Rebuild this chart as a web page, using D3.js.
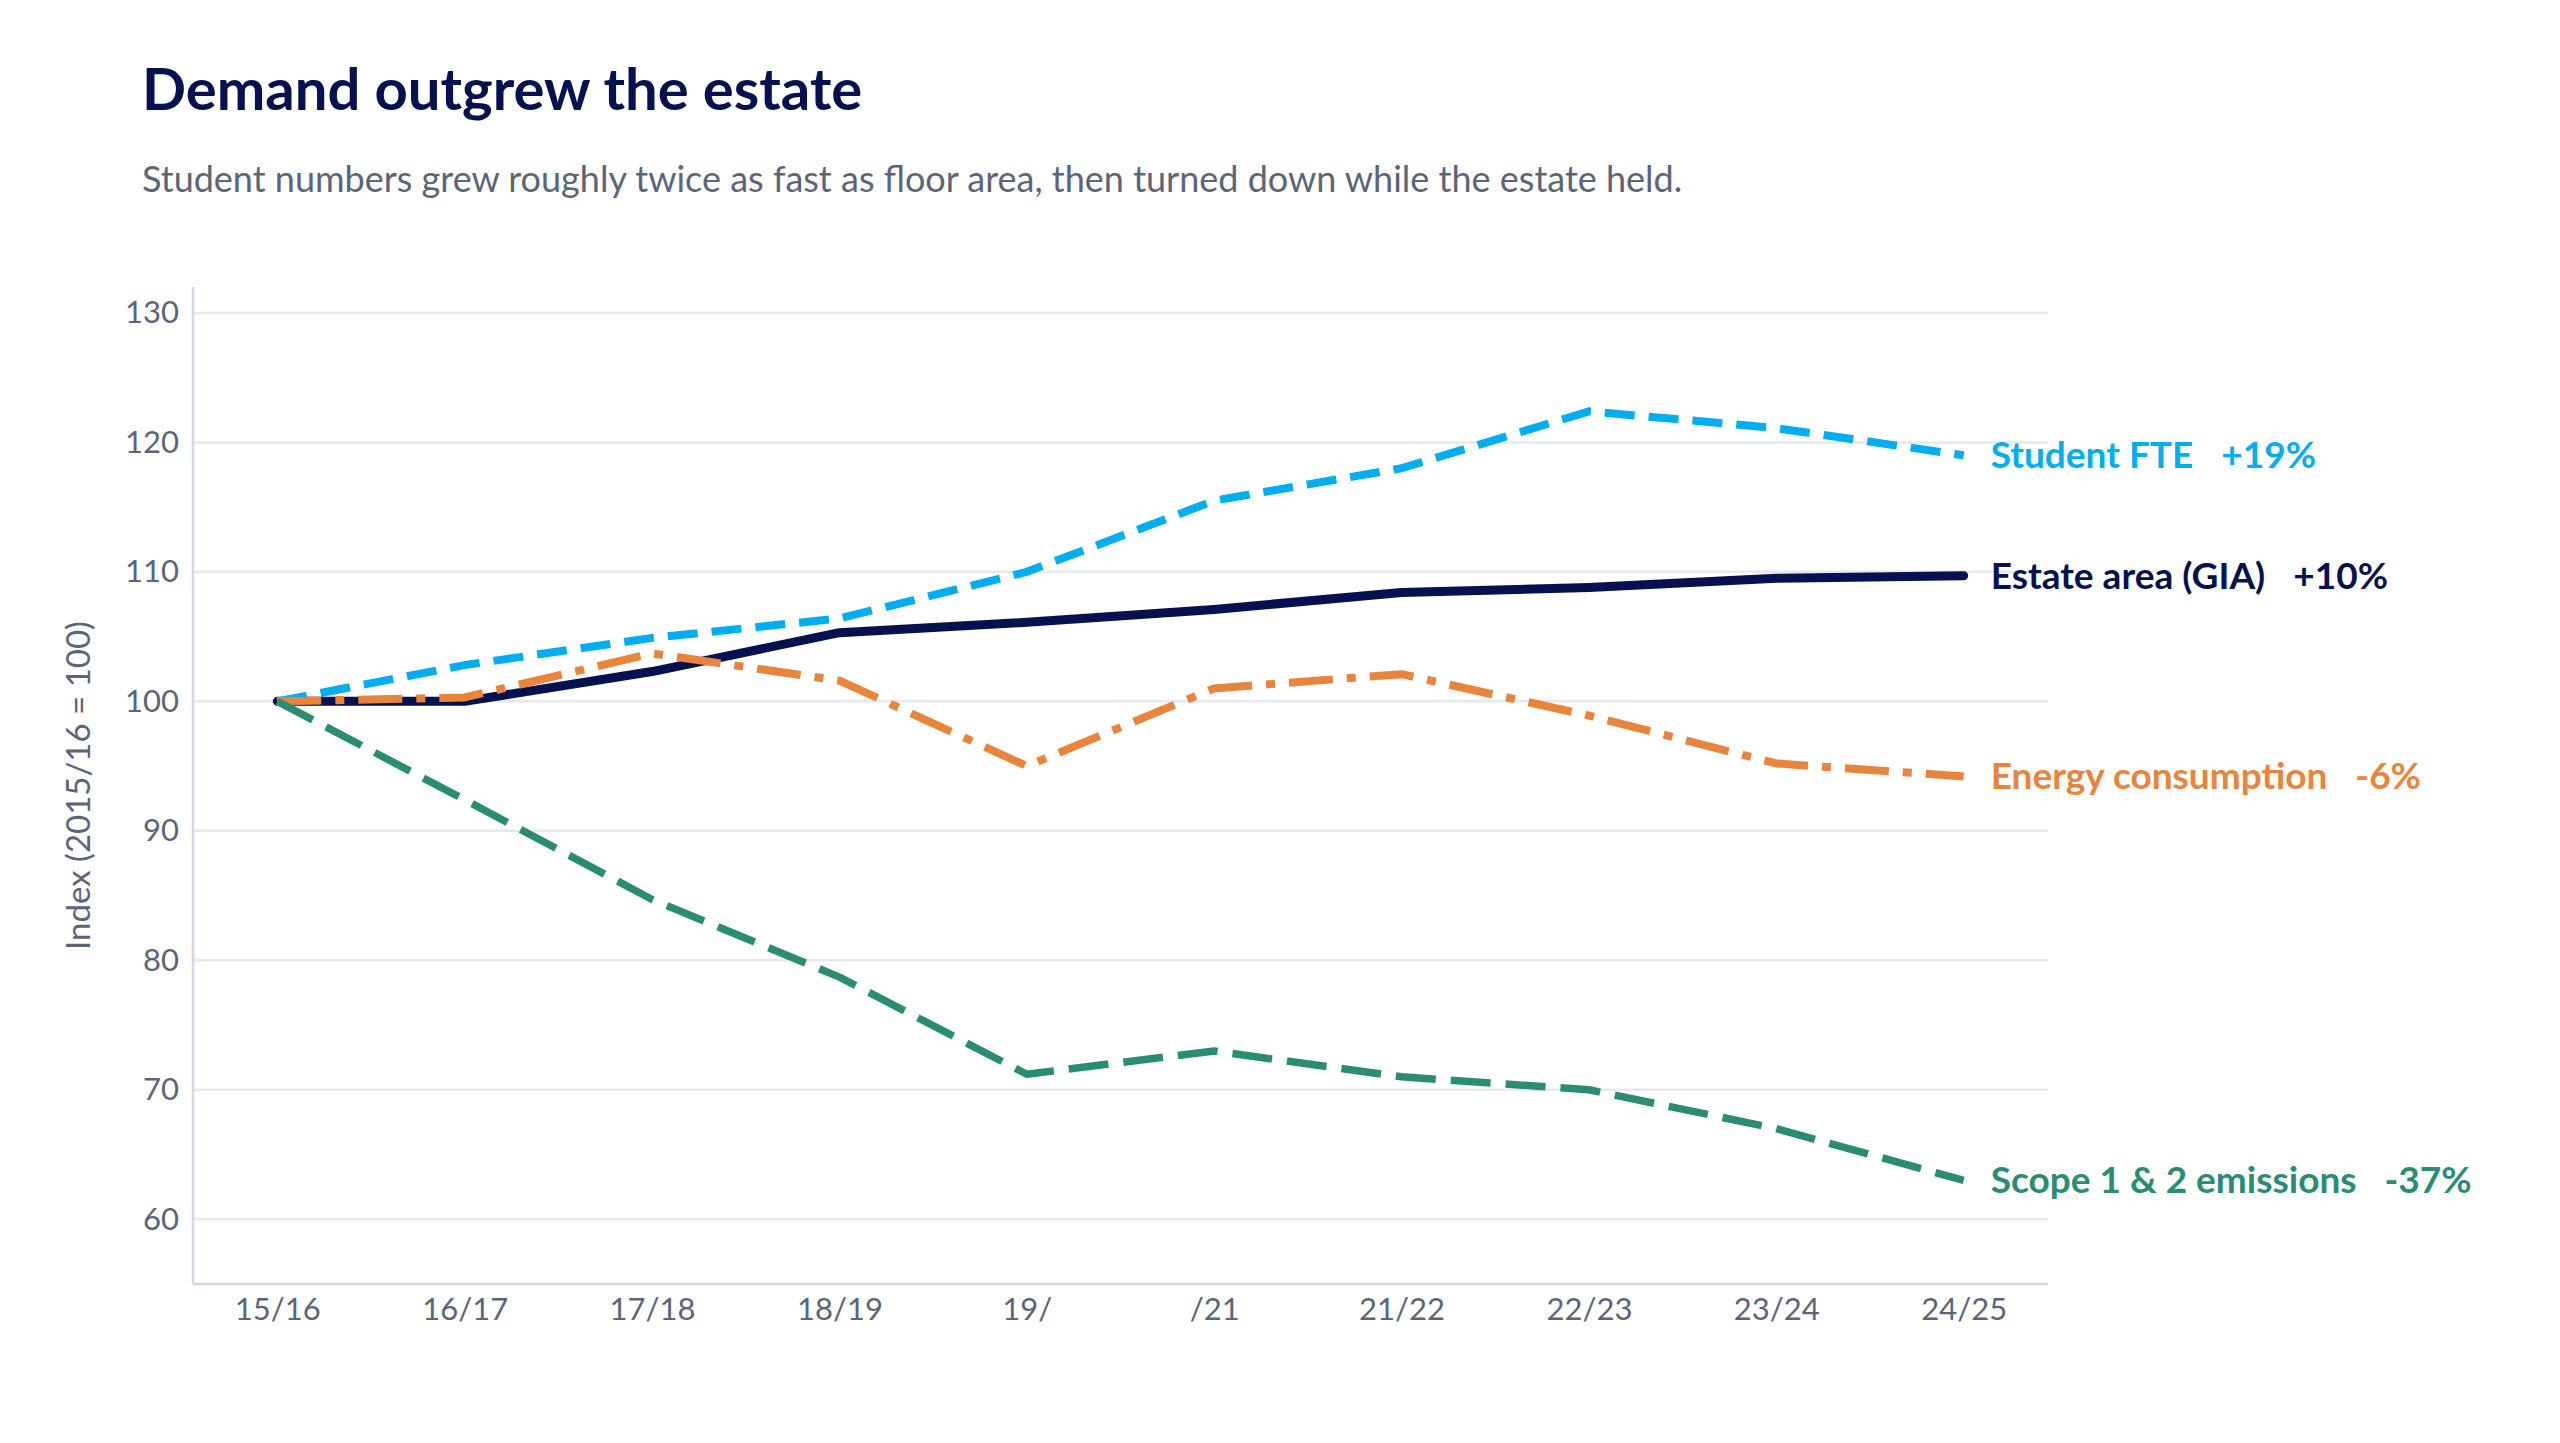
<!DOCTYPE html>
<html>
<head>
<meta charset="utf-8">
<script src="https://cdn.jsdelivr.net/npm/d3@7"></script>
<style>
  html, body { margin: 0; padding: 0; background: #fff; }
  svg { display: block; font-family: Lato, "Noto Sans", sans-serif; }
</style>
</head>
<body>
<div id="chart"></div>
<script>
// data
const years = ['15/16', '16/17', '17/18', '18/19', '19/', '/21', '21/22', '22/23', '23/24', '24/25']
const estateArea = [100, 100, 102.3, 105.3, 106.1, 107.1, 108.4, 108.8, 109.5, 109.7]
const studentFte = [100, 102.8, 104.9, 106.4, 110.0, 115.5, 118.0, 122.4, 121.1, 119.0]
const energyUse = [100, 100.3, 103.7, 101.6, 95.0, 101.0, 102.1, 98.9, 95.2, 94.2]
const emissions = [100, 92.4, 84.7, 78.7, 71.2, 73.0, 71.0, 70.0, 67.0, 63.0]
const yTicks = [60, 70, 80, 90, 100, 110, 120, 130]

const seriesNames = ['Estate area (GIA)', 'Student FTE', 'Energy consumption', 'Scope 1 & 2 emissions']
const seriesChange = ['+10%', '+19%', '-6%', '-37%']
const seriesValues = [estateArea, studentFte, energyUse, emissions]

const styles = [
  { color: '#06114f', width: 9, dash: null },
  { color: '#00aeef', width: 8, dash: '30 14' },
  { color: '#e8843b', width: 8, dash: '44 14 9 14' },
  { color: '#2a8c72', width: 7.5, dash: '40 15' }
]

const W = 2560, H = 1443
const mLeft = 193, mRight = 2048, mTop = 287, mBottom = 1284

const svg = d3.select('#chart').append('svg').attr('width', W).attr('height', H)

// 标题
svg.append('text').text('Demand outgrew the estate')
  .attr('x', 142).attr('y', 110)
  .attr('font-size', 58).attr('font-weight', 700).attr('fill', '#06114f')
svg.append('text').text('Student numbers grew roughly twice as fast as floor area, then turned down while the estate held.')
  .attr('x', 142).attr('y', 192)
  .attr('font-size', 36).attr('fill', '#5c6478')

const x = d3.scalePoint().domain(years).range([mLeft, mRight]).padding(0.45)
const y = d3.scaleLinear().domain([55, 132]).range([mBottom, mTop])

// gridlines
svg.append('g').selectAll('line').data(yTicks).enter().append('line')
  .attr('x1', mLeft).attr('x2', mRight)
  .attr('y1', d => y(d)).attr('y2', d => y(d))
  .attr('stroke', '#e6e8ed').attr('stroke-width', 2.5)

// axes
const yAxis = svg.append('g').attr('transform', `translate(${mLeft},0)`)
  .call(d3.axisLeft(y).tickValues(yTicks).tickSize(0).tickPadding(14))
const xAxis = svg.append('g').attr('transform', `translate(0,${mBottom})`)
  .call(d3.axisBottom(x).tickSize(0).tickPadding(14))
yAxis.select('.domain').attr('stroke', '#d3d7df').attr('stroke-width', 2.5)
  .attr('d', `M0,${mTop}V${mBottom}`)
xAxis.select('.domain').attr('stroke', '#d3d7df').attr('stroke-width', 2.5)
  .attr('d', `M${mLeft},0H${mRight}`)
svg.selectAll('.tick text').attr('font-family', 'Lato, "Noto Sans", sans-serif')
  .attr('font-size', 31).attr('fill', '#5c6478')

svg.append('text').text('Index (2015/16 = 100)')
  .attr('transform', `translate(90,${(mTop + mBottom) / 2}) rotate(-90)`)
  .attr('text-anchor', 'middle')
  .attr('font-size', 33).attr('fill', '#5c6478')

// lines
const line = d3.line().x((d, i) => x(years[i])).y(d => y(d))
const g = svg.append('g').attr('class', 'lines')
seriesValues.forEach((vals, k) => {
  const s = styles[k]
  g.append('path').datum(vals)
    .attr('d', line)
    .attr('fill', 'none')
    .attr('stroke', s.color)
    .attr('stroke-width', s.width)
    .attr('stroke-linejoin', 'round')
    .attr('stroke-linecap', s.dash ? 'butt' : 'round')
    .attr('stroke-dasharray', s.dash)
})

// end labels
const lastX = x(years[years.length - 1])
seriesValues.forEach((vals, k) => {
  const t = svg.append('text')
    .attr('x', lastX + 27)
    .attr('y', y(vals[vals.length - 1]))
    .attr('dy', '0.35em')
    .attr('font-size', 37).attr('font-weight', 700)
    .attr('fill', styles[k].color)
  t.append('tspan').text(seriesNames[k])
  t.append('tspan').attr('dx', 28).text(seriesChange[k])
})
</script>
</body>
</html>
